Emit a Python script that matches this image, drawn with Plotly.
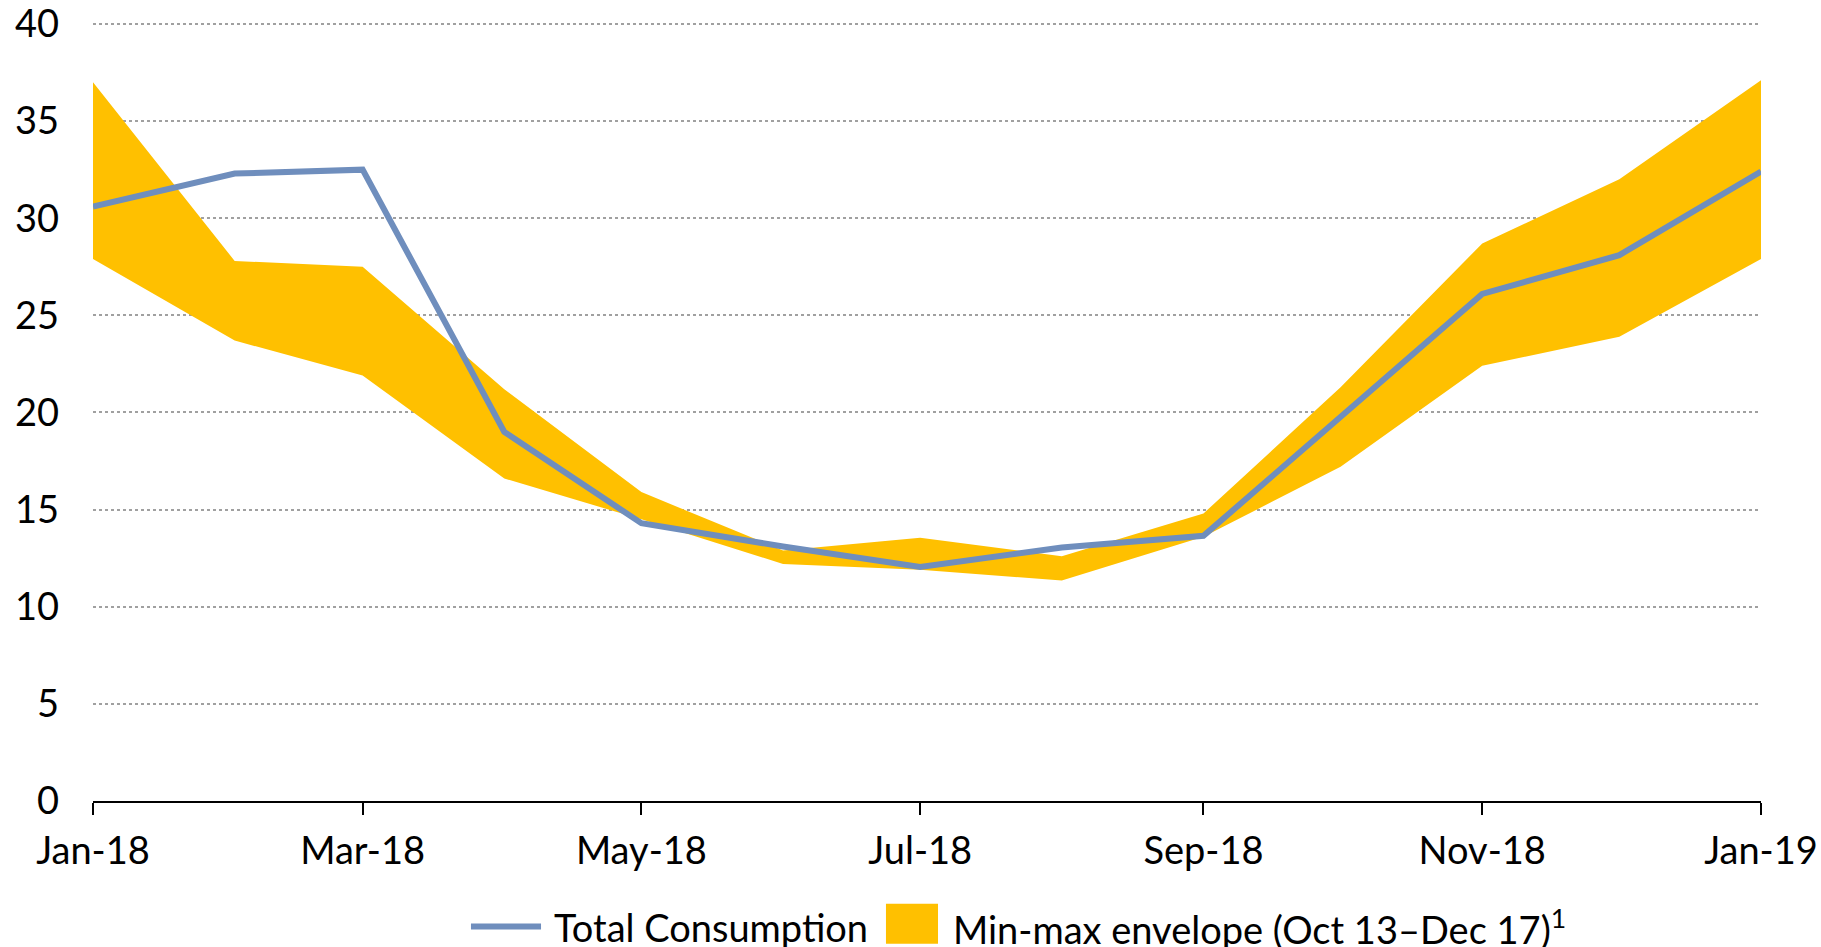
import plotly.graph_objects as go

months = ["2018-01-01", "2018-02-01", "2018-03-01", "2018-04-01", "2018-05-01", "2018-06-01",
          "2018-07-01", "2018-08-01", "2018-09-01", "2018-10-01", "2018-11-01", "2018-12-01",
          "2019-01-01"]
total_consumption = [30.6, 32.3, 32.5, 19.0, 14.3, 13.1, 12.05, 13.05, 13.65, 19.8, 26.1, 28.1, 32.4]
envelope_max = [37.0, 27.8, 27.5, 21.2, 15.9, 12.9, 13.55, 12.6, 14.8, 21.3, 28.7, 32.0, 37.1]
envelope_min = [27.9, 23.7, 21.9, 16.6, 14.5, 12.2, 11.9, 11.35, 13.6, 17.2, 22.4, 23.9, 27.9]
series_names = ["Total Consumption", "Min-max envelope (Oct 13–Dec 17)<sup>1</sup>"]
y_ticks = [0, 5, 10, 15, 20, 25, 30, 35, 40]

LINE_COLOR = "#6F8EBD"
FILL_COLOR = "#FFC000"
FONT = "Lato"
FS = 38

fig = go.Figure()
fig.add_trace(go.Scatter(x=months, y=envelope_min, mode="lines", line=dict(width=0),
                         showlegend=False, hoverinfo="skip"))
fig.add_trace(go.Scatter(x=months, y=envelope_max, mode="lines", line=dict(width=0),
                         fill="tonexty", fillcolor=FILL_COLOR, name=series_names[1],
                         showlegend=False))
fig.add_trace(go.Scatter(x=months, y=total_consumption, mode="lines",
                         line=dict(color=LINE_COLOR, width=6), name=series_names[0],
                         showlegend=False))

# manual legend (below plot)
ly = -0.1612
fig.add_shape(type="line", xref="paper", yref="paper", x0=0.2266, x1=0.2686, y0=ly, y1=ly,
              line=dict(color=LINE_COLOR, width=6))
fig.add_annotation(xref="paper", yref="paper", x=0.2752, y=ly, xanchor="left", yanchor="middle",
                   text=series_names[0], showarrow=False, font=dict(size=FS, color="black"))
fig.add_shape(type="rect", xref="paper", yref="paper", x0=0.4754, x1=0.5066, y0=-0.1832, y1=-0.1318,
              fillcolor=FILL_COLOR, line=dict(width=0))
fig.add_annotation(xref="paper", yref="paper", x=0.5144, y=ly, xanchor="left", yanchor="middle",
                   text=series_names[1], showarrow=False, font=dict(size=FS, color="black"))

fig.update_layout(
    width=1821, height=947,
    margin=dict(l=93, r=60, t=22, b=146),
    plot_bgcolor="white", paper_bgcolor="white",
    font=dict(family=FONT, size=FS, color="black"),
    showlegend=False,
    xaxis=dict(type="date", range=["2018-01-01", "2019-01-01"], tickformat="%b-%y",
               dtick="M2", tick0="2018-01-01", showgrid=False, showline=True,
               linecolor="black", linewidth=2, ticks="outside", ticklen=12,
               tickwidth=2, tickcolor="black", tickfont=dict(size=FS), automargin=False,
               ticklabeloverflow="allow", ticklabelstandoff=3),
    yaxis=dict(range=[0, 40.1], tickvals=y_ticks,
               showgrid=True, gridcolor="#A0A0A0",
               griddash="dot", gridwidth=1.5, zeroline=False, showline=False,
               ticks="", ticklabelstandoff=33, tickfont=dict(size=FS), automargin=False,
               ticklabeloverflow="allow"),
)
fig.write_html("out.html", config={"displayModeBar": False},
               post_script="document.body.style.margin='0';document.body.style.overflow='hidden';")
